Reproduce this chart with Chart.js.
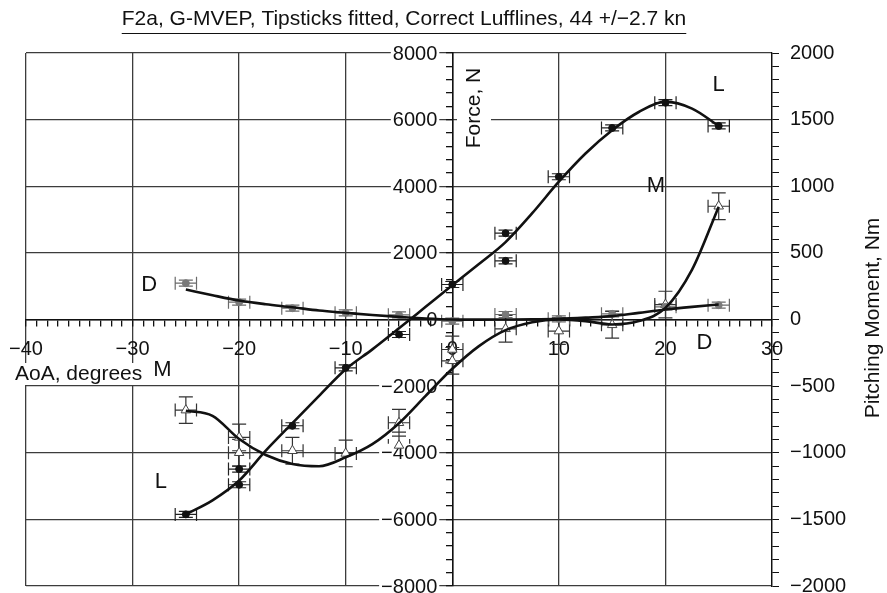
<!DOCTYPE html>
<html>
<head>
<meta charset="utf-8">
<script src="https://cdn.jsdelivr.net/npm/chart.js@4.4.1/dist/chart.umd.min.js"></script>
<style>
html, body { margin: 0; padding: 0; background: #fff; }
</style>
</head>
<body>
<canvas id="chart" width="887" height="593"></canvas>
<script>
'use strict';

const FONT = "'Liberation Sans', Arial, sans-serif";
const INK = '#111';
const GRID = '#3c3c3c';

// measured points (AoA in degrees)
const liftX = [-25, -20, -20, -15, -10, -5, 0, 5, 5, 10, 15, 20, 25];
const liftY = [-5850, -4490, -4960, -3190, -1450, -450, 1050, 2590, 1760, 4285, 5750, 6510, 5810];

const dragX = [-25, -20, -15, -10, -5, 0, 5, 10, 15, 20, 25];
const dragY = [1090, 520, 340, 200, 140, -50, 150, 20, 170, 380, 430];

const momentX = [-25, -20, -20, -15, -10, -5, -5, 0, 0, 5, 10, 15, 20, 25];
const momentY = [-680, -885, -1000, -985, -1005, -775, -945, -225, -310, -70, -87, -40, 112, 850];

// error bars: AoA +/- 1 deg, forces in N, moment in Nm
const aoaErr = 1;
const liftErr = 90;
const dragErr = 90;
const momentErr = 100;

// fitted curves
const fitX = [-25, -22.5, -20, -17.5, -15, -12.5, -10, -7.5, -5, -2.5, 0, 2.5, 5, 7.5, 10, 12.5, 15, 17.5, 20, 22.5, 25];
const liftFit = [-5850, -5430, -4835, -3937, -3110, -2293, -1495, -897, -265, 380, 1026, 1665, 2323, 3190, 4136, 4984, 5681, 6229, 6539, 6330, 5810];
const dragFit = [900, 727, 568, 458, 368, 269, 200, 135, 80, 30, 0, -5, 0, 5, 20, 55, 100, 200, 300, 380, 450];
const momentFit = [-685, -723, -897, -1017, -1084, -1101, -1034, -935, -778, -573, -370, -200, -80, -20, 0, -12, -37, -12, 87, 374, 847];

// curve letters, placed in (AoA, Force) coordinates
const letterText = ['D', 'M', 'L', 'L', 'M', 'D'];
const letterX = [-28.45, -27.2, -27.35, 25.0, 19.1, 23.65];
const letterY = [1030, -1525, -4890, 7045, 4020, -690];

const titleText = 'F2a, G-MVEP, Tipsticks fitted, Correct Lufflines, 44 +/\u22122.7 kn';

const pts = (xs, ys) => xs.map((x, i) => ({ x: x, y: ys[i] }));
const minus = (v) => String(v).replace('-', '\u2212');
const isMult = (v, m) => Math.abs(v % m) < 1e-6;

// error bars under the markers
const errorBars = {
    id: 'errorBars',
    beforeDatasetsDraw(chart) {
        const ctx = chart.ctx;
        const xs = chart.scales.x;
        chart.data.datasets.forEach((ds) => {
            if (ds.errY === undefined) return;
            const ys = chart.scales[ds.yAxisID];
            ctx.save();
            ctx.strokeStyle = ds.errColor;
            ctx.lineWidth = 1.2;
            ctx.beginPath();
            ds.data.forEach((p) => {
                const px = xs.getPixelForValue(p.x);
                const py = ys.getPixelForValue(p.y);
                const x0 = xs.getPixelForValue(p.x - ds.errX);
                const x1 = xs.getPixelForValue(p.x + ds.errX);
                const y0 = ys.getPixelForValue(p.y - ds.errY);
                const y1 = ys.getPixelForValue(p.y + ds.errY);
                ctx.moveTo(x0, py); ctx.lineTo(x1, py);
                ctx.moveTo(x0, py - 6.5); ctx.lineTo(x0, py + 6.5);
                ctx.moveTo(x1, py - 6.5); ctx.lineTo(x1, py + 6.5);
                ctx.moveTo(px, y0); ctx.lineTo(px, y1);
                ctx.moveTo(px - 7, y0); ctx.lineTo(px + 7, y0);
                ctx.moveTo(px - 7, y1); ctx.lineTo(px + 7, y1);
            });
            ctx.stroke();
            ctx.restore();
        });
    }
};

// force labels on the centre axis, title, axis titles and curve letters
const textLayer = {
    id: 'textLayer',
    beforeDatasetsDraw(chart) {
        const ctx = chart.ctx;
        const xs = chart.scales.x;
        const ys = chart.scales.y;
        ctx.save();
        ctx.textBaseline = 'middle';

        // force tick labels, left of the centre axis
        ctx.font = '20px ' + FONT;
        ctx.textAlign = 'right';
        const axisX = xs.getPixelForValue(0);
        ys.ticks.forEach((t) => {
            if (!isMult(t.value, 2000)) return;
            const label = minus(t.value);
            const py = ys.getPixelForValue(t.value);
            const w = ctx.measureText(label).width;
            if (t.value !== 0) {
                ctx.fillStyle = '#fff';
                ctx.fillRect(axisX - 15 - w - 2, py - 9, w + 4, 18);
            }
            ctx.fillStyle = INK;
            ctx.fillText(label, axisX - 15, py + 1);
        });

        ctx.font = '21px ' + FONT;
        ctx.fillStyle = INK;

        // AoA, degrees (white box cuts the grid line)
        ctx.textAlign = 'left';
        let w = ctx.measureText('AoA, degrees').width;
        ctx.fillStyle = '#fff';
        ctx.fillRect(13, 363, w + 4, 22);
        ctx.fillStyle = INK;
        ctx.fillText('AoA, degrees', 15, 374);

        // Force, N
        ctx.save();
        ctx.translate(474, 108);
        ctx.rotate(-Math.PI / 2);
        ctx.textAlign = 'center';
        w = ctx.measureText('Force, N').width;
        ctx.fillStyle = '#fff';
        ctx.fillRect(-w / 2 - 2, -17, w + 4, 34);
        ctx.fillStyle = INK;
        ctx.fillText('Force, N', 0, 0);
        ctx.restore();

        // Pitching Moment, Nm
        ctx.save();
        ctx.translate(873, 318);
        ctx.rotate(-Math.PI / 2);
        ctx.textAlign = 'center';
        ctx.fillText('Pitching Moment, Nm', 0, 0);
        ctx.restore();

        // title with underline
        ctx.textAlign = 'center';
        ctx.fillText(titleText, 404, 19);
        w = ctx.measureText(titleText).width;
        ctx.strokeStyle = INK;
        ctx.lineWidth = 1.2;
        ctx.beginPath();
        ctx.moveTo(404 - w / 2, 33.5);
        ctx.lineTo(404 + w / 2, 33.5);
        ctx.stroke();

        // curve letters
        ctx.font = '22px ' + FONT;
        letterText.forEach((t, i) => {
            ctx.fillText(t, xs.getPixelForValue(letterX[i]), ys.getPixelForValue(letterY[i]));
        });
        ctx.restore();
    }
};

const tickFont = { family: FONT, size: 20 };

new Chart(document.getElementById('chart').getContext('2d'), {
    type: 'scatter',
    data: {
        datasets: [
            { label: 'L fit', type: 'line', data: pts(fitX, liftFit), yAxisID: 'y', borderColor: INK, borderWidth: 2.6, pointRadius: 0, cubicInterpolationMode: 'monotone', fill: false },
            { label: 'D fit', type: 'line', data: pts(fitX, dragFit), yAxisID: 'y', borderColor: INK, borderWidth: 2.6, pointRadius: 0, cubicInterpolationMode: 'monotone', fill: false },
            { label: 'M fit', type: 'line', data: pts(fitX, momentFit), yAxisID: 'y2', borderColor: INK, borderWidth: 2.6, pointRadius: 0, cubicInterpolationMode: 'monotone', fill: false },
            { label: 'D', data: pts(dragX, dragY), yAxisID: 'y', pointStyle: 'circle', pointRadius: 3.5, backgroundColor: '#7a7a7a', borderColor: '#7a7a7a', errX: aoaErr, errY: dragErr, errColor: '#6a6a6a' },
            { label: 'L', data: pts(liftX, liftY), yAxisID: 'y', pointStyle: 'circle', pointRadius: 3.5, backgroundColor: '#111', borderColor: '#111', errX: aoaErr, errY: liftErr, errColor: '#222' },
            { label: 'M', data: pts(momentX, momentY), yAxisID: 'y2', pointStyle: 'triangle', pointRadius: 5.5, backgroundColor: '#fff', borderColor: '#444', borderWidth: 1, errX: aoaErr, errY: momentErr, errColor: '#333' }
        ]
    },
    options: {
        responsive: false,
        animation: false,
        layout: { padding: { top: 53, bottom: 7, left: 26, right: 0 } },
        plugins: { legend: { display: false }, tooltip: { enabled: false }, title: { display: false } },
        scales: {
            x: {
                type: 'linear',
                position: { y: 0 },
                min: -40, max: 30,
                grid: {
                    color: (c) => (isMult(c.tick.value, 10) ? GRID : 'rgba(0,0,0,0)'),
                    tickColor: INK, tickLength: 6, lineWidth: 1.3
                },
                border: { display: true, color: INK, width: 1.5 },
                ticks: {
                    stepSize: 1, autoSkip: false, maxRotation: 0, padding: 12,
                    color: INK, font: tickFont,
                    callback: (v) => (isMult(v, 10) ? minus(v) : '')
                },
                afterFit: (s) => { s.paddingLeft = 0; s.paddingRight = 0; }
            },
            y: {
                type: 'linear',
                position: { x: 0 },
                min: -8000, max: 8000,
                grid: {
                    color: (c) => (isMult(c.tick.value, 2000) ? GRID : 'rgba(0,0,0,0)'),
                    tickColor: INK, tickLength: 6, lineWidth: 1.3
                },
                border: { display: true, color: INK, width: 1.5 },
                ticks: { stepSize: 400, autoSkip: false, display: false },
                afterFit: (s) => { s.paddingTop = 0; s.paddingBottom = 0; }
            },
            y2: {
                type: 'linear',
                position: 'right',
                min: -2000, max: 2000,
                grid: { drawOnChartArea: false, drawTicks: true, tickColor: INK, tickLength: 7 },
                border: { display: true, color: INK, width: 1.3 },
                ticks: {
                    stepSize: 100, autoSkip: false, padding: 11,
                    color: INK, font: tickFont,
                    callback: (v) => (isMult(v, 500) ? minus(v) : '')
                },
                afterFit: (s) => { s.width = 115; s.paddingTop = 0; s.paddingBottom = 0; }
            }
        }
    },
    plugins: [errorBars, textLayer]
});
</script>
</body>
</html>
